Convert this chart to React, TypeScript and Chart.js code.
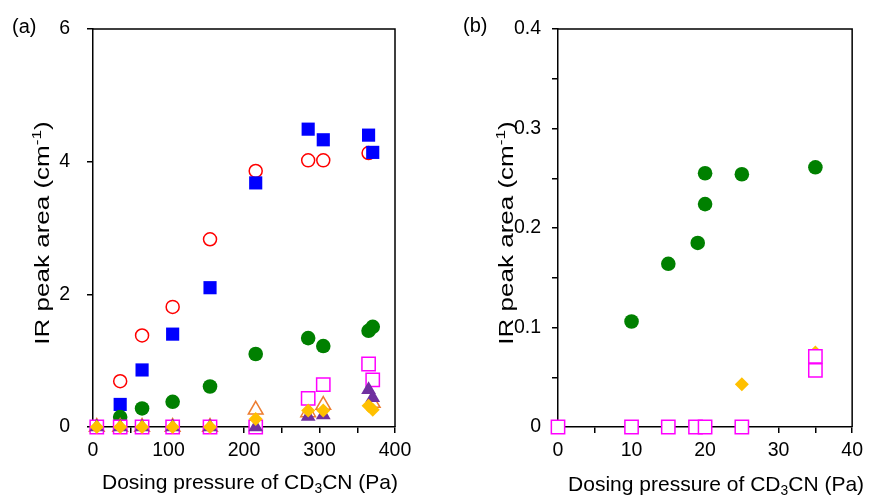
import React, { useEffect, useRef } from 'react';
import { Chart, registerables } from 'chart.js';

Chart.register(...registerables);

const FONT = '"Liberation Sans", Arial, sans-serif';

// ---------- Panel (a) data: dosing pressure (Pa) vs IR peak area (cm-1) ----------
const aRedX = [36, 65, 105.5, 155, 215.5, 285, 305, 365];
const aRedY = [0.69, 1.38, 1.81, 2.83, 3.86, 4.02, 4.02, 4.13];
const aBlueX = [36, 65, 105.5, 155, 215.5, 285, 305, 365, 370.5];
const aBlueY = [0.34, 0.86, 1.4, 2.1, 3.68, 4.49, 4.33, 4.4, 4.14];
const aGreenX = [36, 65, 105.5, 155, 215.5, 285, 305, 365, 370.5];
const aGreenY = [0.15, 0.28, 0.38, 0.61, 1.1, 1.34, 1.22, 1.45, 1.51];
const aOrangeX = [5, 36, 65, 105.5, 155, 215.5, 285, 305, 370.5];
const aOrangeY = [0, 0, 0, 0, 0, 0.26, 0.22, 0.33, 0.36];
const aPurpleX = [5, 36, 65, 105.5, 155, 215.5, 285, 305, 365, 370.5];
const aPurpleY = [0, 0, 0, 0, 0, 0, 0.16, 0.18, 0.56, 0.44];
const aMagentaX = [5, 36, 65, 105.5, 155, 215.5, 285, 305, 365, 370.5];
const aMagentaY = [0, 0, 0, 0, 0, 0, 0.43, 0.64, 0.95, 0.71];
const aGoldX = [5, 36, 65, 105.5, 155, 215.5, 285, 305, 365, 370.5];
const aGoldY = [0, 0, 0, 0, 0, 0.12, 0.25, 0.25, 0.32, 0.26];

const aXTickLabels = [0, 100, 200, 300, 400];
const aYTickLabels = [0, 2, 4, 6];

// ---------- Panel (b) data ----------
const bGreenX = [10, 15, 19, 20, 20, 25, 35];
const bGreenY = [0.106, 0.164, 0.185, 0.224, 0.255, 0.254, 0.261];
const bMagentaX = [0, 10, 15, 18.7, 20, 25, 35, 35];
const bMagentaY = [0, 0, 0, 0, 0, 0, 0.071, 0.057];
const bGoldX = [25, 35];
const bGoldY = [0.043, 0.075];

const bXTickLabels = [0, 10, 20, 30, 40];
const bYTickLabels = ['0', '0.1', '0.2', '0.3', '0.4'];

const xTitleParts = [{ t: 'Dosing pressure of CD' }, { t: '3', s: 'sub' }, { t: 'CN (Pa)' }];
const yTitleParts = [{ t: 'IR peak area (cm' }, { t: '-1', s: 'sup' }, { t: ')' }];

type Part = { t: string; s?: string };

const pts = (xs: number[], ys: number[]) => xs.map((x, i) => ({ x, y: ys[i] }));

function drawParts(
  ctx: CanvasRenderingContext2D,
  parts: Part[],
  size: number,
  x: number,
  y: number,
  rotate: boolean,
  stretch: number
) {
  ctx.save();
  ctx.translate(x, y);
  if (rotate) ctx.rotate(-Math.PI / 2);
  ctx.scale(stretch, 1);
  const widths = parts.map((p) => {
    ctx.font = `${p.s ? size * 0.66 : size}px ${FONT}`;
    return ctx.measureText(p.t).width;
  });
  const total = widths.reduce((a, b) => a + b, 0);
  let cx = -total / 2;
  ctx.textAlign = 'left';
  ctx.textBaseline = 'alphabetic';
  ctx.fillStyle = '#000';
  parts.forEach((p, i) => {
    ctx.font = `${p.s ? size * 0.66 : size}px ${FONT}`;
    const dy = p.s === 'sub' ? size * 0.2 : p.s === 'sup' ? -size * 0.4 : 0;
    ctx.fillText(p.t, cx, dy);
    cx += widths[i];
  });
  ctx.restore();
}

type PanelCfg = {
  left: number;
  width: number;
  yAxisWidth: number;
  rightPad: number;
  xMax: number;
  xStep: number;
  xLabels: number[];
  yMax: number;
  yStep: number;
  yLabels: string[];
  yPad: number;
  datasets: any[];
  label: string;
  labelX: number;
  labelY: number;
  xTitleY: number;
  xTitleShift: number;
  yTitleX: number;
};

function makeChart(canvas: HTMLCanvasElement, c: PanelCfg) {
  const textPlugin = {
    id: 'panelText',
    beforeDatasetsDraw(chart: any) {
      const ctx = chart.ctx as CanvasRenderingContext2D;
      const a = chart.chartArea;
      ctx.save();
      ctx.strokeStyle = '#000';
      ctx.lineWidth = 1.5;
      ctx.beginPath();
      ctx.moveTo(a.left, a.top);
      ctx.lineTo(a.right, a.top);
      ctx.lineTo(a.right, a.bottom);
      ctx.stroke();
      ctx.restore();
    },
    afterDraw(chart: any) {
      const ctx = chart.ctx as CanvasRenderingContext2D;
      const a = chart.chartArea;
      ctx.save();
      ctx.font = `20px ${FONT}`;
      ctx.fillStyle = '#000';
      ctx.textAlign = 'left';
      ctx.textBaseline = 'alphabetic';
      ctx.fillText(c.label, c.labelX, c.labelY);
      ctx.restore();
      drawParts(ctx, xTitleParts, 21, (a.left + a.right) / 2 + c.xTitleShift, c.xTitleY, false, 1);
      drawParts(ctx, yTitleParts, 20, c.yTitleX, (a.top + a.bottom) / 2 + 5, true, 1.3);
    },
  };

  return new Chart(canvas, {
    type: 'scatter',
    data: { datasets: c.datasets },
    options: {
      responsive: false,
      animation: false,
      layout: { padding: { top: 29, right: c.rightPad, left: 0, bottom: 0 } },
      plugins: { legend: { display: false }, tooltip: { enabled: false } },
      scales: {
        x: {
          type: 'linear',
          min: 0,
          max: c.xMax,
          grid: { drawOnChartArea: false, drawTicks: true, tickLength: 6, color: '#000', lineWidth: 1.5 },
          border: { display: true, color: '#000', width: 1.5 },
          ticks: {
            stepSize: c.xStep,
            autoSkip: false,
            maxRotation: 0,
            color: '#000',
            padding: 6,
            font: { family: FONT, size: 19.5 },
            callback: (v: any) => (c.xLabels.some((l) => Math.abs(l - v) < 1e-9) ? String(v) : ''),
          },
          afterFit: (s: any) => {
            s.height = 74;
          },
        },
        y: {
          type: 'linear',
          min: 0,
          max: c.yMax,
          grid: { drawOnChartArea: false, drawTicks: true, tickLength: 6, color: '#000', lineWidth: 1.5 },
          border: { display: true, color: '#000', width: 1.5 },
          ticks: {
            stepSize: c.yStep,
            autoSkip: false,
            color: '#000',
            padding: c.yPad,
            font: { family: FONT, size: 19.5 },
            callback: (v: any) => {
              const s = Math.abs(v) < 1e-9 ? '0' : String(Math.round(v * 1000) / 1000);
              return c.yLabels.includes(s) ? s : '';
            },
          },
          afterFit: (s: any) => {
            s.width = c.yAxisWidth;
          },
        },
      },
    } as any,
    plugins: [textPlugin],
  });
}

const ds = (data: any[], style: string, radius: number, bg: string, border: string, bw: number) => ({
  data,
  pointStyle: style,
  pointRadius: radius,
  pointHoverRadius: radius,
  backgroundColor: bg,
  borderColor: border,
  borderWidth: bw,
  clip: false,
});

const panelA: PanelCfg = {
  left: 0,
  width: 434,
  yAxisWidth: 93,
  rightPad: 39,
  xMax: 400,
  xStep: 50,
  xLabels: aXTickLabels,
  yMax: 6,
  yStep: 2,
  yLabels: aYTickLabels.map(String),
  yPad: 17,
  label: '(a)',
  labelX: 12,
  labelY: 33,
  xTitleY: 489,
  xTitleShift: 6,
  yTitleX: 48.5,
  datasets: [
    ds(pts(aGoldX, aGoldY), 'rectRot', 7, '#FFC000', '#FFC000', 0),
    ds(pts(aPurpleX, aPurpleY), 'triangle', 8.5, '#7030A0', '#7030A0', 0),
    ds(pts(aMagentaX, aMagentaY), 'rect', 9.4, '#FFFFFF', '#FF00FF', 1.5),
    ds(pts(aOrangeX, aOrangeY), 'triangle', 8.5, '#FFFFFF', '#ED7D31', 1.5),
    ds(pts(aGreenX, aGreenY), 'circle', 7.3, '#008000', '#008000', 0),
    ds(pts(aBlueX, aBlueY), 'rect', 9.3, '#0000FF', '#0000FF', 0),
    ds(pts(aRedX, aRedY), 'circle', 6.5, '#FFFFFF', '#FF0000', 1.5),
  ],
};

const panelB: PanelCfg = {
  left: 434,
  width: 435,
  yAxisWidth: 124,
  rightPad: 15,
  xMax: 40,
  xStep: 5,
  xLabels: bXTickLabels,
  yMax: 0.4,
  yStep: 0.05,
  yLabels: bYTickLabels,
  yPad: 11,
  label: '(b)',
  labelX: 29,
  labelY: 32,
  xTitleY: 491,
  xTitleShift: 11,
  yTitleX: 79,
  datasets: [
    ds(pts(bMagentaX, bMagentaY), 'rect', 9.4, '#FFFFFF', '#FF00FF', 1.5),
    ds(pts(bGoldX, bGoldY), 'rectRot', 7, '#FFC000', '#FFC000', 0),
    ds(pts(bGreenX, bGreenY), 'circle', 7.3, '#008000', '#008000', 0),
  ],
};

function Panel({ cfg }: { cfg: PanelCfg }) {
  const ref = useRef<HTMLCanvasElement>(null);
  useEffect(() => {
    const chart = makeChart(ref.current as HTMLCanvasElement, cfg);
    return () => chart.destroy();
  }, [cfg]);
  return (
    <canvas
      ref={ref}
      width={cfg.width}
      height={501}
      style={{ position: 'absolute', left: cfg.left, top: 0, width: cfg.width, height: 501 }}
    />
  );
}

export default function App() {
  return (
    <div style={{ position: 'fixed', left: 0, top: 0, width: 869, height: 501, background: '#fff' }}>
      <Panel cfg={panelA} />
      <Panel cfg={panelB} />
    </div>
  );
}
